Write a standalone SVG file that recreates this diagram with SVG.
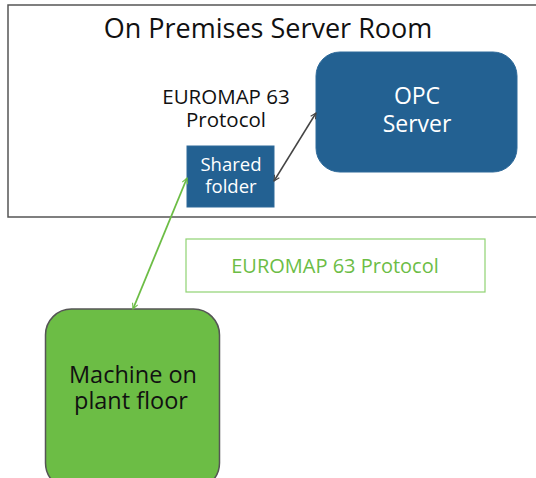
<svg xmlns="http://www.w3.org/2000/svg" width="536" height="478" viewBox="0 0 536 478">
<style>
text{font-family:"Open Sans","Noto Sans","Liberation Sans",sans-serif;text-anchor:middle}
.blue{fill:#236192;stroke:#2e6a9a;stroke-width:1}
.w{fill:#ffffff}
.k{fill:#111111}
.g{fill:#6cbd45}
</style>
<defs>
<marker id="ak" viewBox="0 0 10 10" refX="9" refY="5" markerWidth="7" markerHeight="7" orient="auto-start-reverse" markerUnits="userSpaceOnUse"><path d="M1,1 L9,5 L1,9" fill="none" stroke="#444" stroke-width="1.5"/></marker>
<marker id="ag" viewBox="0 0 10 10" refX="9" refY="5" markerWidth="7" markerHeight="7" orient="auto-start-reverse" markerUnits="userSpaceOnUse"><path d="M1,1 L9,5 L1,9" fill="none" stroke="#6cbd45" stroke-width="1.5"/></marker>
</defs>
<rect width="536" height="478" fill="#fff"/>
<g id="server-room">
<rect x="8" y="5" width="540" height="212" fill="#fff" stroke="#555" stroke-width="1.5"/>
<text x="268" y="38" font-size="27" class="k">On Premises Server Room</text>
</g>
<g id="protocol-label">
<text font-size="20.5" class="k"><tspan x="226" y="104">EUROMAP 63</tspan><tspan x="226" y="127">Protocol</tspan></text>
</g>
<g id="opc-server">
<rect x="316" y="52" width="201" height="120" rx="24" class="blue"/>
<text font-size="23" class="w"><tspan x="417" y="104">OPC</tspan><tspan x="417" y="132">Server</tspan></text>
</g>
<g id="shared-folder">
<rect x="187" y="146" width="87" height="61" class="blue"/>
<text font-size="18.5" class="w"><tspan x="231" y="171">Shared</tspan><tspan x="231" y="193">folder</tspan></text>
</g>
<g id="protocol-box">
<rect x="186" y="239" width="299" height="53" fill="#fff" stroke="#8fd372" stroke-width="1.2"/>
<text x="335" y="273" font-size="20" class="g">EUROMAP 63 Protocol</text>
</g>
<g id="machine">
<rect x="45.5" y="309" width="174" height="180" rx="26" fill="#6cbd45" stroke="#555" stroke-width="1.5"/>
<text font-size="23.5" class="k"><tspan x="133" y="383">Machine on</tspan><tspan x="131" y="409">plant floor</tspan></text>
</g>
<g id="connectors">
<line x1="274" y1="181" x2="316" y2="113" stroke="#444" stroke-width="1.5" marker-start="url(#ak)" marker-end="url(#ak)"/>
<line x1="187" y1="178" x2="133" y2="309" stroke="#6cbd45" stroke-width="1.8" marker-start="url(#ag)" marker-end="url(#ag)"/>
</g>
</svg>
